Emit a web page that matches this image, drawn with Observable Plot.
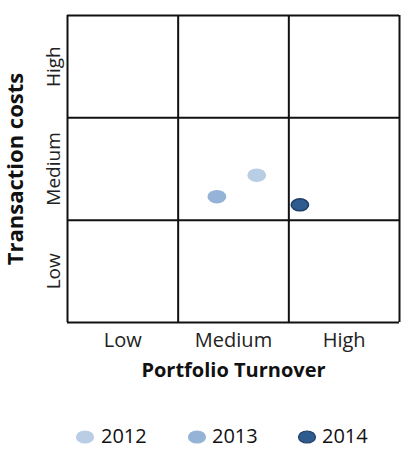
<!DOCTYPE html>
<html><head><meta charset="utf-8">
<script src="https://cdn.jsdelivr.net/npm/d3@7"></script>
<script src="https://cdn.jsdelivr.net/npm/@observablehq/plot@0.6"></script>
<style>
body{margin:0;background:#fff;font-family:"Open Sans",sans-serif;}
#legend{position:relative;width:410px;height:44px;}
#legend svg, #legend span{position:absolute;}
#legend span{font-size:20px;color:#111;line-height:24px;top:14px;}
#legend svg{top:20px;}
</style></head>
<body><div id="chart"></div><div id="legend"></div>
<script>
const years = ["2012", "2013", "2014"];
const turnover = [1.71, 1.35, 2.1];
const costs = [1.44, 1.23, 1.15];
const levels = ["Low", "Medium", "High"];
const levelPos = [0.5, 1.5, 2.5];
const bounds = [0, 1, 2, 3];

const palette = ["#b9cde5", "#95b3d7", "#2f5c8f"];
const strokes = ["#b9cde5", "#95b3d7", "#1f3f66"];

const data = years.map((y, i) => ({year: y, x: turnover[i], y: costs[i]}));
const ticks = levels.map((l, i) => ({label: l, p: levelPos[i]}));

const ellipse = {
  draw(ctx, size) {
    const r = Math.sqrt(size / Math.PI);
    const rx = r * 1.45, ry = r, k = 0.5523;
    ctx.moveTo(rx, 0);
    ctx.bezierCurveTo(rx, k * ry, k * rx, ry, 0, ry);
    ctx.bezierCurveTo(-k * rx, ry, -rx, k * ry, -rx, 0);
    ctx.bezierCurveTo(-rx, -k * ry, -k * rx, -ry, 0, -ry);
    ctx.bezierCurveTo(k * rx, -ry, rx, -k * ry, rx, 0);
    ctx.closePath();
  }
};

const chart = Plot.plot({
  width: 410, height: 410,
  marginLeft: 67, marginRight: 11, marginTop: 15, marginBottom: 88,
  style: {fontFamily: "Open Sans, sans-serif", background: "#fff"},
  x: {domain: [0, 3], axis: null},
  y: {domain: [0, 3], axis: null},
  color: {domain: years, range: palette},
  marks: [
    Plot.ruleX(bounds, {stroke: "#111", strokeWidth: 2}),
    Plot.ruleY(bounds, {stroke: "#111", strokeWidth: 2}),
    Plot.dot(data, {x: "x", y: "y", fill: "year", stroke: d => strokes[years.indexOf(d.year)], strokeWidth: 1.5, r: 6, symbol: ellipse}),
    Plot.text(ticks, {x: "p", y: 0, text: "label", dy: 18, fontSize: 20, fill: "#222", letterSpacing: 0.8}),
    Plot.text(["Portfolio Turnover"], {x: 1.5, y: 0, text: d => d, dy: 48, fontSize: 20, fontWeight: "bold", fill: "#111", letterSpacing: 0.6}),
    Plot.text(ticks, {x: 0, y: "p", text: "label", dx: -14, rotate: -90, fontSize: 19, fill: "#222", letterSpacing: 0.5}),
    Plot.text(["Transaction costs"], {x: 0, y: 1.5, text: d => d, dx: -52, rotate: -90, fontSize: 22, fontWeight: "bold", fill: "#111"})
  ]
});
document.getElementById("chart").appendChild(chart);

const legend = document.getElementById("legend");
const ex = [85, 197, 307];
const tx = [101, 212, 322];
years.forEach((y, i) => {
  const s = document.createElementNS("http://www.w3.org/2000/svg", "svg");
  s.setAttribute("width", 20); s.setAttribute("height", 14);
  s.style.left = (ex[i] - 10) + "px";
  s.innerHTML = `<ellipse cx="10" cy="7" rx="8.5" ry="6" fill="${palette[i]}" stroke="${strokes[i]}" stroke-width="1.2"/>`;
  legend.appendChild(s);
  const t = document.createElement("span");
  t.textContent = y;
  t.style.left = tx[i] + "px";
  legend.appendChild(t);
});
</script></body></html>
